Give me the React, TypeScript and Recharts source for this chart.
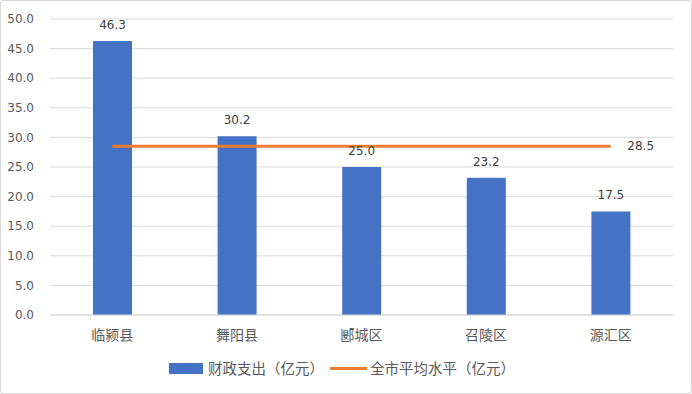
import { ComposedChart, Bar, Line, XAxis, YAxis, CartesianGrid, LabelList } from 'recharts';

const categories = ['临颍县', '舞阳县', '郾城区', '召陵区', '源汇区'];
const spending = [46.3, 30.2, 25.0, 23.2, 17.5];
const cityAverage = [28.5, 28.5, 28.5, 28.5, 28.5];
const yTicks = [0, 5, 10, 15, 20, 25, 30, 35, 40, 45, 50];

const data = categories.map((name, i) => ({
  name,
  spending: spending[i],
  average: cityAverage[i],
}));

const FONT = '"Noto Sans CJK SC", "DejaVu Sans", sans-serif';
const NUM_FONT = '"DejaVu Sans", sans-serif';

const AvgLabel = (props: any) => {
  const { x, y, index, value } = props;
  if (index !== categories.length - 1) return null;
  return (
    <text x={x + 30} y={y} dy={4} textAnchor="middle" fontSize={12} fontFamily={NUM_FONT} fill="#404040">
      {Number(value).toFixed(1)}
    </text>
  );
};

const App = () => {
  return (
    <div
      style={{
        position: 'fixed',
        left: 0,
        top: 0,
        width: 692,
        height: 394,
        boxSizing: 'border-box',
        border: '1px solid #d9d9d9',
        borderRadius: 3,
        background: '#fff',
        fontFamily: FONT,
      }}
    >
      <div style={{ position: 'absolute', left: -1, top: -1 }}>
        <ComposedChart
          width={692}
          height={394}
          data={data}
          margin={{ top: 19, right: 19, left: 0, bottom: 49 }}
        >
          <CartesianGrid stroke="#d9d9d9" horizontal={true} vertical={false} />
          <XAxis
            dataKey="name"
            height={30}
            axisLine={{ stroke: '#d9d9d9' }}
            tickLine={false}
            tick={{ fontSize: 14, fontFamily: FONT, fill: '#595959' }}
            tickMargin={9}
          />
          <YAxis
            width={50}
            domain={[0, 50]}
            ticks={yTicks}
            axisLine={false}
            tickLine={false}
            tickFormatter={(v) => Number(v).toFixed(1)}
            tick={{ fontSize: 12, fontFamily: NUM_FONT, fill: '#595959' }}
            tickMargin={10}
          />
          <Bar dataKey="spending" fill="#4472C4" barSize={39} isAnimationActive={false}>
            <LabelList
              dataKey="spending"
              position="top"
              offset={12}
              formatter={(v: any) => Number(v).toFixed(1)}
              style={{ fontSize: 12, fontFamily: NUM_FONT, fill: '#404040' }}
            />
          </Bar>
          <Line
            dataKey="average"
            stroke="#ED7D31"
            strokeWidth={3}
            dot={false}
            activeDot={false}
            isAnimationActive={false}
          >
            <LabelList dataKey="average" content={AvgLabel} />
          </Line>
        </ComposedChart>
      </div>
      <div
        style={{
          position: 'absolute',
          top: 357,
          left: 168,
          display: 'flex',
          alignItems: 'center',
          fontSize: 14.5,
          lineHeight: '20px',
          color: '#595959',
        }}
      >
        <div style={{ width: 34, height: 11, background: '#4472C4', marginRight: 5 }} />
        <span>财政支出（亿元）</span>
        <div style={{ width: 37, height: 3, background: '#ED7D31', marginLeft: 6, marginRight: 3 }} />
        <span>全市平均水平（亿元）</span>
      </div>
    </div>
  );
};

export default App;
